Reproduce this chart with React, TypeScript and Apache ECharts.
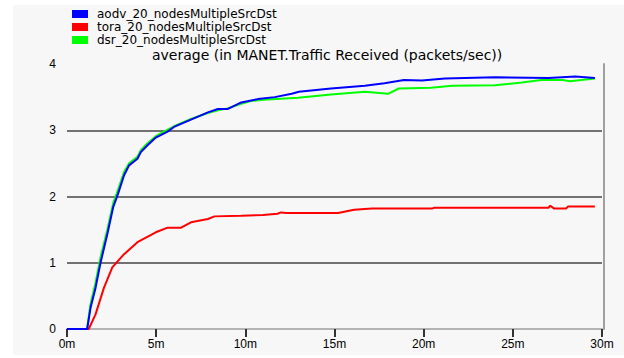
import React, { useEffect, useRef } from "react";
import * as echarts from "echarts";

// Simulation time (minutes) and average traffic received (packets/sec)
const aodvTime = [0, 1.13, 1.32, 1.6, 1.88, 2.26, 2.59, 2.86, 3.2, 3.48, 3.95, 4.14, 4.5, 4.98, 5.64, 6.0, 6.95, 7.9, 8.46, 9.0, 9.77, 10.7, 11.65, 12.6, 13.0, 14.8, 16.7, 17.8, 18.9, 19.9, 21.2, 24, 27, 28.5, 29.6];
const aodvValue = [0, 0, 0.32, 0.62, 1.0, 1.43, 1.84, 2.04, 2.32, 2.47, 2.57, 2.67, 2.77, 2.89, 2.98, 3.05, 3.16, 3.27, 3.32, 3.32, 3.42, 3.47, 3.5, 3.55, 3.58, 3.63, 3.67, 3.71, 3.76, 3.75, 3.78, 3.8, 3.79, 3.81, 3.79];

const toraTime = [0, 1.22, 1.6, 2.07, 2.54, 3.2, 3.95, 4.98, 5.64, 6.4, 6.95, 7.9, 8.27, 9.77, 11.0, 11.8, 12.0, 12.3, 15.2, 16.1, 17.1, 20.5, 20.6, 27.0, 27.1, 27.3, 28.0, 28.1, 29.6];
const toraValue = [0, 0, 0.22, 0.62, 0.93, 1.13, 1.31, 1.46, 1.53, 1.53, 1.61, 1.66, 1.7, 1.71, 1.72, 1.74, 1.76, 1.75, 1.75, 1.8, 1.82, 1.82, 1.83, 1.83, 1.86, 1.82, 1.82, 1.85, 1.85];

const dsrTime = [0, 1.13, 1.3, 1.6, 1.88, 2.26, 2.59, 2.86, 3.2, 3.48, 3.95, 4.14, 4.5, 4.98, 5.64, 6.0, 6.95, 7.9, 8.46, 9.0, 9.77, 10.3, 11.0, 12.96, 14.8, 16.7, 18.0, 18.6, 20.4, 21.6, 24, 25.5, 26.6, 27.8, 28.2, 29.6];
const dsrValue = [0, 0, 0.35, 0.7, 1.08, 1.5, 1.9, 2.1, 2.37, 2.5, 2.6, 2.7, 2.8, 2.91, 3.01, 3.06, 3.17, 3.26, 3.3, 3.33, 3.4, 3.44, 3.46, 3.49, 3.54, 3.58, 3.55, 3.63, 3.64, 3.67, 3.68, 3.72, 3.76, 3.76, 3.74, 3.78];

const seriesNames = ["aodv_20_nodesMultipleSrcDst", "tora_20_nodesMultipleSrcDst", "dsr_20_nodesMultipleSrcDst"];
const seriesColors = ["#0000ff", "#ff0000", "#00ff00"];
const chartTitle = "average (in MANET.Traffic Received (packets/sec))";
const xTicks = [0, 5, 10, 15, 20, 25, 30];
const yTicks = [0, 1, 2, 3, 4];

const pairs = (t: number[], v: number[]) => t.map((x, i) => [x, v[i]]);

const AXIS_FONT = "'Liberation Sans', Arial, sans-serif";
const HEAD_FONT = "'DejaVu Sans', Verdana, sans-serif";

export default function App() {
  const ref = useRef<HTMLDivElement>(null);

  useEffect(() => {
    if (!ref.current) return;
    const chart = echarts.init(ref.current, null, { renderer: "svg" });
    const line = (idx: number, data: number[][], z: number) => ({
      name: seriesNames[idx],
      type: "line",
      data,
      symbol: "none",
      z,
      lineStyle: { color: seriesColors[idx], width: 2 },
      itemStyle: { color: seriesColors[idx] },
    });
    chart.setOption({
      animation: false,
      backgroundColor: "#ffffff",
      textStyle: { fontFamily: AXIS_FONT },
      graphic: [
        {
          type: "rect",
          z: -10,
          shape: { x: 13, y: 5, width: 611, height: 350 },
          style: { fill: "#f7f7f7" },
        },
      ],
      title: {
        text: chartTitle,
        left: 152,
        top: 49,
        padding: 0,
        textStyle: { fontSize: 14, fontWeight: "normal", color: "#000", fontFamily: HEAD_FONT, lineHeight: 12 },
      },
      legend: {
        orient: "vertical",
        left: 72,
        top: 8,
        padding: 0,
        itemGap: 1,
        itemWidth: 16,
        itemHeight: 8,
        icon: "rect",
        data: [seriesNames[0], seriesNames[1], seriesNames[2]],
        textStyle: { fontSize: 12, lineHeight: 12, color: "#000", fontFamily: HEAD_FONT, padding: [0, 0, 0, 4] },
      },
      grid: { left: 67, right: 22, top: 64, bottom: 29 },
      xAxis: {
        type: "value",
        min: xTicks[0],
        max: xTicks[xTicks.length - 1],
        interval: 5,
        axisLine: { show: true, lineStyle: { color: "#b4b4b4", width: 2 } },
        axisTick: { show: true, length: 8, lineStyle: { color: "#333", width: 2 } },
        axisLabel: { color: "#000", fontSize: 12, margin: 9, formatter: (v: number) => `${v}m` },
        splitLine: { show: false },
      },
      yAxis: [
        {
          type: "value",
          min: yTicks[0],
          max: yTicks[yTicks.length - 1],
          interval: 1,
          axisLine: { show: false },
          axisTick: { show: false },
          axisLabel: { color: "#000", fontSize: 12, margin: 11 },
          splitLine: {
            show: true,
            lineStyle: {
              color: ["rgba(0,0,0,0)", "#444", "#444", "#444", "rgba(0,0,0,0)"],
              width: 1.5,
            },
          },
        },
        {
          type: "value",
          position: "right",
          min: 0,
          max: 4,
          interval: 1,
          offset: 2,
          axisLine: { show: true, lineStyle: { color: "#a0a0a0", width: 2 } },
          axisTick: { show: false },
          axisLabel: { show: false },
          splitLine: { show: false },
        },
      ],
      series: [
        line(2, pairs(dsrTime, dsrValue), 2),
        line(1, pairs(toraTime, toraValue), 3),
        line(0, pairs(aodvTime, aodvValue), 4),
      ],
    });
    return () => chart.dispose();
  }, []);

  return (
    <div
      ref={ref}
      style={{ position: "fixed", left: 0, top: 0, width: 624, height: 358 }}
    />
  );
}
